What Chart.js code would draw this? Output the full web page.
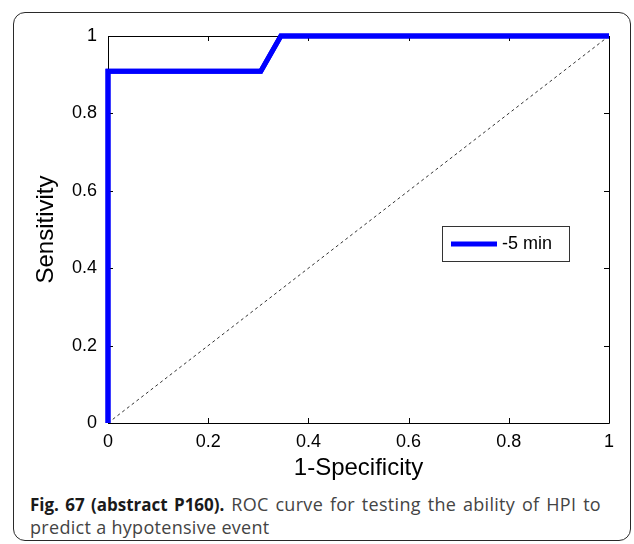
<!DOCTYPE html>
<html>
<head>
<meta charset="utf-8">
<script src="https://cdn.jsdelivr.net/npm/chart.js@4.4.1/dist/chart.umd.min.js"></script>
<style>
  html, body { margin: 0; padding: 0; background: #fff; }
  #wrap { position: relative; width: 634px; height: 544px; overflow: hidden; }
  #frame { position: absolute; left: 13px; top: 12px; width: 618px; height: 529px;
           border: 1.5px solid #2a2a2a; border-radius: 12px; box-sizing: border-box; }
  #c { position: absolute; left: 0; top: 0; }
  #caption { position: absolute; left: 30px; top: 493px; width: 571px;
             font-family: "Open Sans", "Noto Sans", sans-serif; font-size: 18px; line-height: 23px;
             color: #444; letter-spacing: 0.3px; }
  #caption .l1 { text-align: justify; text-align-last: justify; white-space: nowrap; }
  #caption .l2 { white-space: nowrap; }
  #caption b { color: #1a1a1a; font-weight: 700; font-size: 17px; letter-spacing: 0; }
</style>
</head>
<body>
<div id="wrap">
  <div id="frame"></div>
  <canvas id="c" width="634" height="483"></canvas>
  <div id="caption"><div class="l1"><b>Fig. 67 (abstract P160).</b> ROC curve for testing the ability of HPI to</div><div class="l2">predict a hypotensive event</div></div>
</div>
<script>
// ---- data ----
const seriesLabel = "-5 min";
const fpr = [0, 0, 0.305, 0.345, 1];          // 1-Specificity
const tpr = [0, 0.909, 0.909, 1, 1];          // Sensitivity
const refX = [0, 1];
const refY = [0, 1];
const xTicks = [0, 0.2, 0.4, 0.6, 0.8, 1];
const yTicks = [0, 0.2, 0.4, 0.6, 0.8, 1];
const xTitle = "1-Specificity";
const yTitle = "Sensitivity";

const toPts = (xs, ys) => xs.map((x, i) => ({ x: x, y: ys[i] }));
const fmt = v => (v === 0 ? "0" : v === 1 ? "1" : String(v));

const boxPlugin = {
  id: 'matlabBox',
  afterDraw(chart) {
    const ctx = chart.ctx;
    const a = chart.chartArea;
    const xs = chart.scales.x, ys = chart.scales.y;
    ctx.save();
    ctx.strokeStyle = '#000';
    ctx.lineWidth = 1;
    ctx.beginPath();
    ctx.rect(Math.round(a.left) + 0.5, Math.round(a.top) + 0.5,
             Math.round(a.right - a.left), Math.round(a.bottom - a.top));
    ctx.stroke();
    const tl = 5;
    ctx.beginPath();
    xTicks.forEach(v => {
      const px = Math.round(xs.getPixelForValue(v)) + 0.5;
      ctx.moveTo(px, a.bottom); ctx.lineTo(px, a.bottom - tl);
      ctx.moveTo(px, a.top); ctx.lineTo(px, a.top + tl);
    });
    yTicks.forEach(v => {
      const py = Math.round(ys.getPixelForValue(v)) + 0.5;
      ctx.moveTo(a.left, py); ctx.lineTo(a.left + tl, py);
      ctx.moveTo(a.right, py); ctx.lineTo(a.right - tl, py);
    });
    ctx.stroke();
    // redraw ROC curve on top of the box
    const meta = chart.getDatasetMeta(1);
    ctx.strokeStyle = '#0000ff';
    ctx.lineWidth = 5;
    ctx.lineJoin = 'miter';
    ctx.beginPath();
    meta.data.forEach((p, i) => { if (i === 0) ctx.moveTo(p.x, p.y); else ctx.lineTo(p.x, p.y); });
    ctx.stroke();
    // legend box inside the axes
    const lx = a.left + 334, ly = a.top + 190, lw = 127, lh = 35;
    ctx.fillStyle = '#fff';
    ctx.fillRect(lx, ly, lw, lh);
    ctx.strokeStyle = '#333';
    ctx.lineWidth = 1;
    ctx.strokeRect(lx + 0.5, ly + 0.5, lw, lh);
    ctx.strokeStyle = '#0000ff';
    ctx.lineWidth = 5;
    ctx.beginPath();
    ctx.moveTo(lx + 9, ly + lh / 2 + 0.5);
    ctx.lineTo(lx + 55, ly + lh / 2 + 0.5);
    ctx.stroke();
    ctx.fillStyle = '#000';
    ctx.font = '18px "Liberation Sans", Arial, sans-serif';
    ctx.textBaseline = 'middle';
    ctx.textAlign = 'left';
    ctx.fillText(chart.data.datasets[1].label, lx + 60, ly + lh / 2 + 1);
    ctx.restore();
  }
};

new Chart(document.getElementById('c'), {
  type: 'scatter',
  data: {
    datasets: [
      {
        label: 'reference',
        data: toPts(refX, refY),
        showLine: true,
        borderColor: '#333',
        borderWidth: 1,
        borderDash: [3, 3],
        pointRadius: 0,
        fill: false
      },
      {
        label: seriesLabel,
        data: toPts(fpr, tpr),
        showLine: true,
        borderColor: '#0000ff',
        borderWidth: 5,
        pointRadius: 0,
        fill: false,
        clip: false
      }
    ]
  },
  options: {
    responsive: false,
    animation: false,
    devicePixelRatio: 1,
    layout: { padding: { left: 0, right: 25, top: 36, bottom: 0 } },
    plugins: { legend: { display: false }, tooltip: { enabled: false } },
    scales: {
      x: {
        type: 'linear', min: 0, max: 1,
        afterFit: s => { s.height = 60; },
        afterBuildTicks: s => { s.ticks = xTicks.map(v => ({ value: v })); },
        grid: { display: false, drawTicks: false },
        border: { display: false },
        ticks: { padding: 8, color: '#000', maxRotation: 0,
                 font: { family: '"Liberation Sans", Arial, sans-serif', size: 18 },
                 callback: v => fmt(v) },
        title: { display: true, text: xTitle, color: '#000', padding: { top: 0, bottom: 0 },
                 font: { family: '"Liberation Sans", Arial, sans-serif', size: 24 } }
      },
      y: {
        type: 'linear', min: 0, max: 1,
        afterFit: s => { s.width = 108; },
        afterBuildTicks: s => { s.ticks = yTicks.map(v => ({ value: v })); },
        grid: { display: false, drawTicks: false },
        border: { display: false },
        ticks: { padding: 11, color: '#000',
                 font: { family: '"Liberation Sans", Arial, sans-serif', size: 18 },
                 callback: v => fmt(v) },
        title: { display: true, text: yTitle, color: '#000', padding: { top: 32, bottom: 0 },
                 font: { family: '"Liberation Sans", Arial, sans-serif', size: 24 } }
      }
    }
  },
  plugins: [boxPlugin]
});
</script>
</body>
</html>
